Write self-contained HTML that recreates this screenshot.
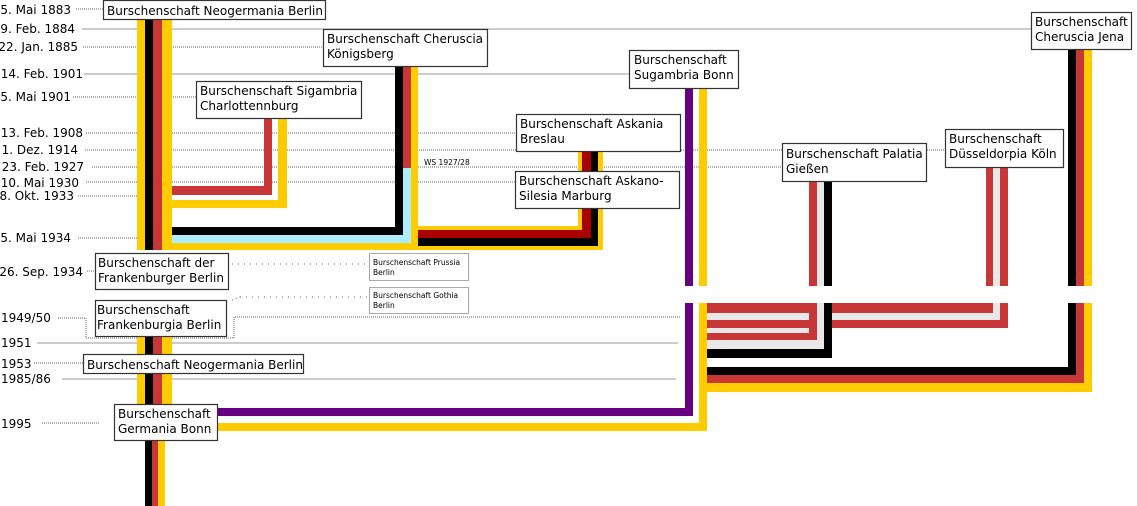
<!DOCTYPE html>
<html><head><meta charset="utf-8"><style>
html,body{margin:0;padding:0;background:#fff;}
svg{display:block;font-family:"DejaVu Sans","Liberation Sans",sans-serif;}
</style></head><body>
<svg width="1137" height="506" viewBox="0 0 1137 506" xmlns="http://www.w3.org/2000/svg">
<g stroke="#666" stroke-width="1" fill="none">
<line x1="76" y1="9" x2="103" y2="9" stroke-dasharray="1,1"/>
<line x1="82" y1="29" x2="1031" y2="29" stroke="#999"/>
<line x1="83" y1="47" x2="323" y2="47" stroke-dasharray="1,1"/>
<line x1="84" y1="74" x2="629" y2="74" stroke="#999"/>
<line x1="73" y1="97" x2="196" y2="97" stroke-dasharray="1,1"/>
<line x1="86" y1="133" x2="516" y2="133" stroke-dasharray="1,1"/>
<line x1="85" y1="150" x2="945" y2="150" stroke-dasharray="1,1"/>
<line x1="92" y1="167" x2="782" y2="167" stroke-dasharray="1,1"/>
<line x1="86" y1="182" x2="515" y2="182" stroke-dasharray="1,1"/>
<line x1="78" y1="196" x2="137" y2="196" stroke-dasharray="1,1"/>
<line x1="78" y1="238" x2="137" y2="238" stroke-dasharray="1,1"/>
<line x1="87" y1="271" x2="95" y2="271" stroke-dasharray="1,1"/>
<line x1="58" y1="318" x2="86" y2="318" stroke-dasharray="1,1"/>
<polyline points="86,318 86,338 234,338 234,317 680,317" stroke-dasharray="1,1"/>
<line x1="37" y1="343" x2="678" y2="343" stroke="#999"/>
<line x1="34" y1="363" x2="83" y2="363" stroke-dasharray="1,1"/>
<line x1="62" y1="379" x2="676" y2="379" stroke="#999"/>
<line x1="42" y1="423" x2="100" y2="423" stroke-dasharray="1,1"/>
<line x1="232" y1="264" x2="369" y2="264" stroke-dasharray="1,5"/>
<line x1="232" y1="300" x2="240" y2="297" stroke-dasharray="1,3"/>
<line x1="240" y1="297" x2="369" y2="297" stroke-dasharray="1,5"/>
</g>
<rect x="137" y="18" width="35" height="232" fill="#ffcc00"/>
<rect x="145" y="18" width="8" height="232" fill="#000"/>
<rect x="153" y="18" width="9" height="232" fill="#c83737"/>
<rect x="137" y="337" width="35" height="70" fill="#ffcc00"/>
<rect x="145" y="337" width="8" height="70" fill="#000"/>
<rect x="153" y="337" width="9" height="70" fill="#c83737"/>
<rect x="145" y="438" width="7" height="68" fill="#000"/>
<rect x="152" y="438" width="6" height="68" fill="#c83737"/>
<rect x="158" y="438" width="7" height="68" fill="#ffcc00"/>
<rect x="172" y="243" width="431" height="7" fill="#ffcc00"/>
<rect x="264" y="117" width="8" height="78" fill="#c83737"/>
<rect x="172" y="186" width="100" height="9" fill="#c83737"/>
<rect x="278" y="117" width="9" height="91" fill="#ffcc00"/>
<rect x="172" y="200" width="115" height="8" fill="#ffcc00"/>
<rect x="395" y="62" width="8" height="173" fill="#000"/>
<rect x="172" y="227" width="231" height="8" fill="#000"/>
<rect x="403" y="62" width="8" height="106" fill="#c83737"/>
<rect x="403" y="168" width="8" height="75" fill="#aaeeff"/>
<rect x="172" y="235" width="239" height="8" fill="#aaeeff"/>
<rect x="411" y="62" width="7" height="188" fill="#ffcc00"/>
<rect x="578" y="150" width="25" height="100" fill="#ffcc00"/>
<rect x="418" y="226" width="185" height="24" fill="#ffcc00"/>
<rect x="582" y="150" width="9" height="88" fill="#aa0000"/>
<rect x="418" y="230" width="173" height="8" fill="#aa0000"/>
<rect x="591" y="150" width="7" height="96" fill="#000"/>
<rect x="418" y="238" width="180" height="8" fill="#000"/>
<rect x="685" y="88" width="8" height="198" fill="#660080"/>
<rect x="685" y="303" width="8" height="113" fill="#660080"/>
<rect x="217" y="408" width="476" height="8" fill="#660080"/>
<rect x="699" y="88" width="8" height="198" fill="#ffcc00"/>
<rect x="699" y="303" width="8" height="128" fill="#ffcc00"/>
<rect x="217" y="423" width="490" height="8" fill="#ffcc00"/>
<rect x="1068" y="49" width="8" height="237" fill="#000"/>
<rect x="1076" y="49" width="8" height="237" fill="#c83737"/>
<rect x="1084" y="49" width="8" height="237" fill="#ffcc00"/>
<rect x="1084" y="303" width="8" height="89" fill="#ffcc00"/>
<rect x="707" y="383" width="385" height="9" fill="#ffcc00"/>
<rect x="1076" y="303" width="8" height="80" fill="#c83737"/>
<rect x="707" y="375" width="377" height="8" fill="#c83737"/>
<rect x="1068" y="303" width="8" height="72" fill="#000"/>
<rect x="707" y="367" width="369" height="8" fill="#000"/>
<rect x="986" y="167" width="22" height="119" fill="#c83737"/>
<rect x="993" y="167" width="7" height="119" fill="#e8e8e8"/>
<rect x="1000" y="303" width="8" height="25" fill="#c83737"/>
<rect x="707" y="320" width="301" height="8" fill="#c83737"/>
<rect x="993" y="303" width="7" height="17" fill="#e8e8e8"/>
<rect x="707" y="313" width="293" height="7" fill="#e8e8e8"/>
<rect x="986" y="303" width="7" height="10" fill="#c83737"/>
<rect x="707" y="303" width="286" height="10" fill="#c83737"/>
<rect x="809" y="181" width="8" height="105" fill="#c83737"/>
<rect x="817" y="181" width="7" height="105" fill="#e8e8e8"/>
<rect x="824" y="181" width="8" height="105" fill="#000"/>
<rect x="824" y="303" width="8" height="55" fill="#000"/>
<rect x="707" y="349" width="125" height="9" fill="#000"/>
<rect x="817" y="303" width="7" height="46" fill="#e8e8e8"/>
<rect x="707" y="340" width="117" height="9" fill="#e8e8e8"/>
<rect x="809" y="303" width="8" height="37" fill="#c83737"/>
<rect x="707" y="333" width="110" height="7" fill="#c83737"/>
<rect x="707" y="328" width="102" height="5" fill="#e8e8e8"/>
<g fill="#fff" stroke="#333" stroke-width="1.2">
<rect x="103.5" y="0.5" width="222" height="19"/>
<rect x="323.5" y="29.5" width="164" height="37"/>
<rect x="196.5" y="81.5" width="165" height="37"/>
<rect x="629.5" y="50.5" width="109" height="38"/>
<rect x="516.5" y="114.5" width="164" height="37"/>
<rect x="515.5" y="171.5" width="164" height="37"/>
<rect x="782.5" y="143.5" width="144" height="38"/>
<rect x="945.5" y="129.5" width="118" height="38"/>
<rect x="1031.5" y="12.5" width="100" height="37"/>
<rect x="95.5" y="253.5" width="133" height="36"/>
<rect x="95.5" y="300.5" width="131" height="36"/>
<rect x="83.5" y="354.5" width="220" height="19"/>
<rect x="114.5" y="404.5" width="103" height="36"/>
</g>
<g fill="#fff" stroke="#555" stroke-width="1" stroke-dasharray="1,1">
<rect x="369.5" y="253.5" width="99" height="27"/>
<rect x="369.5" y="287.5" width="99" height="26"/>
</g>
<g font-size="12" fill="#000">
<text x="107" y="15">Burschenschaft Neogermania Berlin</text>
<text x="327" y="43">Burschenschaft Cheruscia</text><text x="327" y="58">Königsberg</text>
<text x="200" y="95">Burschenschaft Sigambria</text><text x="200" y="110">Charlottennburg</text>
<text x="634" y="64">Burschenschaft</text><text x="634" y="79">Sugambria Bonn</text>
<text x="520" y="128">Burschenschaft Askania</text><text x="520" y="143">Breslau</text>
<text x="519" y="185">Burschenschaft Askano-</text><text x="519" y="200">Silesia Marburg</text>
<text x="786" y="158">Burschenschaft Palatia</text><text x="786" y="173">Gießen</text>
<text x="949" y="143">Burschenschaft</text><text x="949" y="158">Düsseldorpia Köln</text>
<text x="1035" y="26">Burschenschaft</text><text x="1035" y="41">Cheruscia Jena</text>
<text x="98" y="267">Burschenschaft der</text><text x="98" y="282">Frankenburger Berlin</text>
<text x="97" y="314">Burschenschaft</text><text x="97" y="329">Frankenburgia Berlin</text>
<text x="87" y="369">Burschenschaft Neogermania Berlin</text>
<text x="118" y="418">Burschenschaft</text><text x="118" y="433">Germania Bonn</text>
</g>
<g font-size="7.5" fill="#000">
<text x="373" y="265">Burschenschaft Prussia</text><text x="373" y="275">Berlin</text>
<text x="373" y="298">Burschenschaft Gothia</text><text x="373" y="308">Berlin</text>
<text x="424" y="165">WS 1927/28</text>
</g>
<g font-size="12" fill="#000" text-anchor="end">
<text x="71" y="14">5. Mai 1883</text>
<text x="75" y="33">9. Feb. 1884</text>
<text x="78" y="51">22. Jan. 1885</text>
<text x="83" y="78">14. Feb. 1901</text>
<text x="71" y="101">5. Mai 1901</text>
<text x="83" y="137">13. Feb. 1908</text>
<text x="78" y="154">1. Dez. 1914</text>
<text x="84" y="171">23. Feb. 1927</text>
<text x="79" y="187">10. Mai 1930</text>
<text x="74" y="200">8. Okt. 1933</text>
<text x="71" y="242">5. Mai 1934</text>
<text x="83" y="276">26. Sep. 1934</text>
</g>
<g font-size="12" fill="#000">
<text x="1" y="322">1949/50</text>
<text x="1" y="347">1951</text>
<text x="1" y="368">1953</text>
<text x="1" y="383">1985/86</text>
<text x="1" y="428">1995</text>
</g>
</svg>
</body></html>
